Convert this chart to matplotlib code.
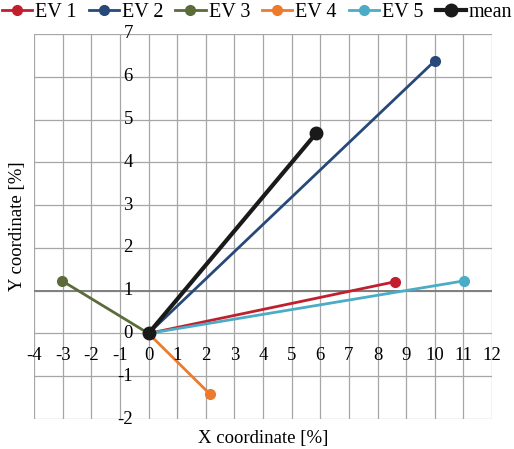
import matplotlib
matplotlib.use("Agg")
import matplotlib.pyplot as plt

plt.rcParams['font.family'] = ['Liberation Serif', 'DejaVu Serif']

series = ["EV 1", "EV 2", "EV 3", "EV 4", "EV 5", "mean"]
end_x = [8.62, 10.0, -3.02, 2.15, 11.03, 5.86]
end_y = [1.21, 6.37, 1.23, -1.42, 1.23, 4.68]
colors = ["#C0202E", "#27497A", "#5B6B3A", "#EC7B2C", "#4BACC6", "#1A1A1A"]

x_ticks = list(range(-4, 13))
y_ticks = list(range(-2, 8))

fig = plt.figure(figsize=(5.14, 4.49), dpi=100)
ax = fig.add_axes([34 / 514, 1 - 419 / 449, 458 / 514, 385 / 449])

ax.set_xlim(-4, 12)
ax.set_ylim(-2, 7)

# grid drawn by hand so the axes can sit at the origin
for xv in x_ticks:
    ax.axvline(xv, color="#A6A6A6", lw=0.9, zorder=0)
for yv in y_ticks:
    ax.axhline(yv, color="#A6A6A6", lw=0.9, zorder=0)
ax.axhline(1, color="#7F7F7F", lw=1.4, zorder=0)

for sp in ax.spines.values():
    sp.set_visible(False)
ax.set_xticks([])
ax.set_yticks([])

handles = []
for name, xe, ye, c in zip(series, end_x, end_y, colors):
    is_mean = name == "mean"
    h, = ax.plot([0, xe], [0, ye], color=c,
                 lw=3.0 if is_mean else 2.0,
                 marker="o", ms=9 if is_mean else 7,
                 zorder=5 if is_mean else 3, label=name)
    handles.append(h)

# tick labels placed next to the axes through the origin
for xv in x_ticks:
    ax.text(xv, -0.52, str(xv), ha="center", va="center", fontsize=13.5)
for yv in y_ticks:
    ax.text(-0.55, yv, str(yv), ha="right", va="center", fontsize=13.5)

ax.set_xlabel("X coordinate [%]", fontsize=13.5, labelpad=8)
ax.set_ylabel("Y coordinate [%]", fontsize=13.5, labelpad=6)

fig.legend(handles=handles, loc="upper center", bbox_to_anchor=(0.5, 1.012),
           ncol=6, frameon=False, fontsize=14.5, handlelength=1.5,
           handletextpad=0.15, columnspacing=0.6, borderaxespad=0.2,
           borderpad=0.2)

fig.savefig("out.png", dpi=100)
